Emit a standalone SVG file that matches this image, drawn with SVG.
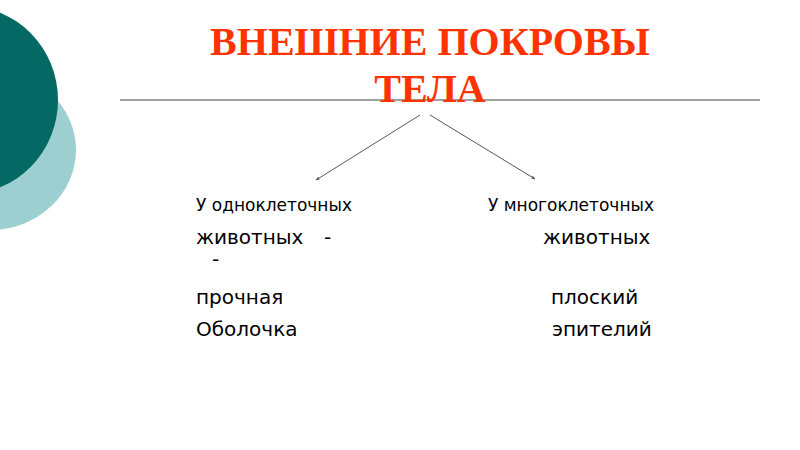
<svg xmlns="http://www.w3.org/2000/svg" width="800" height="450" viewBox="0 0 800 450">
<defs>
<style>
.title{font-family:"Liberation Serif","Times New Roman",serif;font-weight:bold;font-size:40px;fill:#ff3300;text-anchor:middle}
.t1{font-family:"DejaVu Sans",Verdana,sans-serif;font-size:17px;fill:#000}
.t2{font-family:"DejaVu Sans",Verdana,sans-serif;font-size:20px;fill:#000}
.conn{stroke:#555;stroke-width:1;fill:none;marker-end:url(#ah)}
</style>
<marker id="ah" viewBox="0 0 10 10" refX="9" refY="5" markerWidth="4" markerHeight="4" orient="auto">
<path d="M0,1 L10,5 L0,9 z" fill="#555"/>
</marker>
</defs>
<rect width="800" height="450" fill="#fff"/>
<g id="decor">
<ellipse cx="-10" cy="150" rx="86" ry="80" fill="#9dcfd0"/>
<ellipse cx="-34" cy="100" rx="92" ry="94" fill="#046865"/>
</g>
<line x1="120" y1="100" x2="760" y2="100" stroke="#808080" stroke-width="1.5"/>
<g id="title">
<text class="title" x="430" y="55">ВНЕШНИЕ ПОКРОВЫ</text>
<text class="title" x="430" y="102">ТЕЛА</text>
</g>
<g id="connectors">
<line class="conn" x1="420" y1="115" x2="316" y2="180"/>
<line class="conn" x1="430" y1="115" x2="535" y2="179"/>
</g>
<g id="left">
<text class="t1" x="196" y="211">У одноклеточных</text>
<text class="t2" x="196" y="244">животных<tspan x="324">-</tspan></text>
<text class="t2" x="212" y="266">-</text>
<text class="t2" x="196" y="304">прочная</text>
<text class="t2" x="196" y="336">Оболочка</text>
</g>
<g id="right">
<text class="t1" x="488" y="211">У многоклеточных</text>
<text class="t2" x="543" y="244">животных</text>
<text class="t2" x="551" y="304">плоский</text>
<text class="t2" x="552" y="336">эпителий</text>
</g>
</svg>
